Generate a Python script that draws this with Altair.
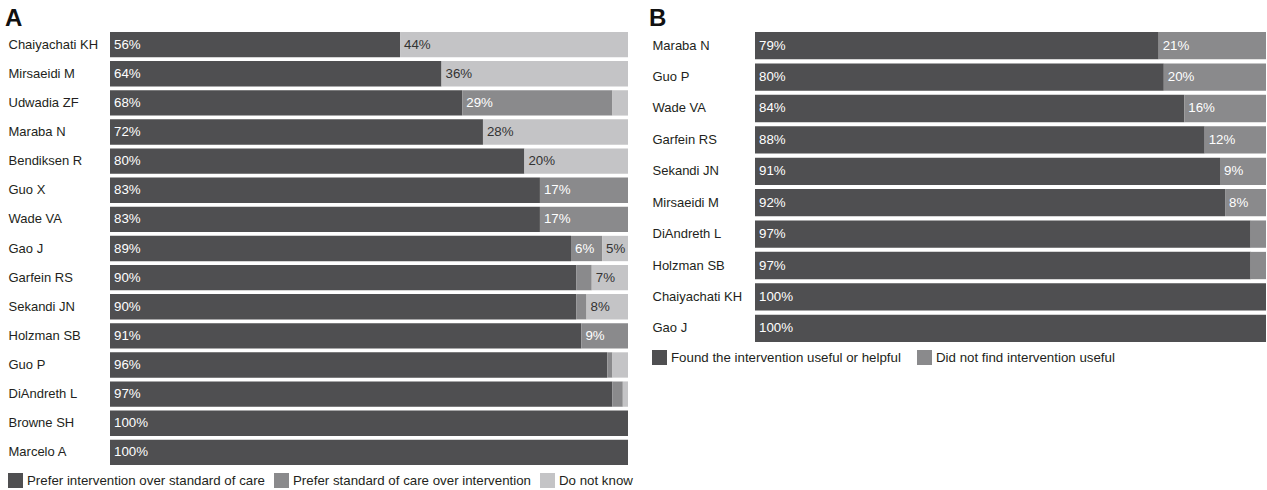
import altair as alt
import pandas as pd

FONT = "Liberation Sans"
TEXT_COLOR = "#231f20"
DARK, MID, LIGHT = "#4f4f51", "#8a8a8c", "#c4c4c6"

# Panel A: preference for the intervention over standard of care (%)
a_authors = ["Chaiyachati KH", "Mirsaeidi M", "Udwadia ZF", "Maraba N", "Bendiksen R",
             "Guo X", "Wade VA", "Gao J", "Garfein RS", "Sekandi JN", "Holzman SB",
             "Guo P", "DiAndreth L", "Browne SH", "Marcelo A"]
a_prefer_intervention = [56, 64, 68, 72, 80, 83, 83, 89, 90, 90, 91, 96, 97, 100, 100]
a_prefer_standard = [0, 0, 29, 0, 0, 17, 17, 6, 3, 2, 9, 1, 2, 0, 0]
a_do_not_know = [44, 36, 3, 28, 20, 0, 0, 5, 7, 8, 0, 3, 1, 0, 0]
a_categories = ["Prefer intervention over standard of care",
                "Prefer standard of care over intervention",
                "Do not know"]

# Panel B: perceived usefulness of the intervention (%)
b_authors = ["Maraba N", "Guo P", "Wade VA", "Garfein RS", "Sekandi JN",
             "Mirsaeidi M", "DiAndreth L", "Holzman SB", "Chaiyachati KH", "Gao J"]
b_useful = [79, 80, 84, 88, 91, 92, 97, 97, 100, 100]
b_not_useful = [21, 20, 16, 12, 9, 8, 3, 3, 0, 0]
b_categories = ["Found the intervention useful or helpful",
                "Did not find intervention useful"]


def long_table(authors, series, categories):
    rows = []
    for rank, (cat, values) in enumerate(zip(categories, series)):
        for author, v in zip(authors, values):
            if v > 0:
                rows.append({"author": author, "category": cat, "rank": rank, "pct": v})
    return pd.DataFrame(rows)


def panel(df, authors, categories, colors, width, height, letter, label_pad, col_pad):
    y = alt.Y("author:N", sort=authors, title=None,
              scale=alt.Scale(paddingInner=0.13, paddingOuter=0),
              axis=alt.Axis(labelAlign="left", labelPadding=label_pad, ticks=False,
                            domain=False, grid=False, labelFont=FONT, labelFontSize=13,
                            labelColor=TEXT_COLOR, labelLimit=200))
    x = alt.X("x0:Q", scale=alt.Scale(domain=[0, 100], nice=False), axis=None)
    base = alt.Chart(df).transform_stack(
        stack="pct", groupby=["author"], as_=["x0", "x1"],
        sort=[alt.SortField("rank", order="ascending")])
    bars = base.mark_bar().encode(
        x=x, x2="x1:Q", y=y,
        color=alt.Color(
            "category:N",
            scale=alt.Scale(domain=categories, range=colors),
            legend=alt.Legend(title=None, orient="none", legendX=-label_pad,
                              legendY=height + 8, direction="horizontal",
                              symbolType="square", symbolSize=225, symbolStrokeWidth=0,
                              symbolOpacity=1, labelFont=FONT, labelFontSize=13.3,
                              labelColor=TEXT_COLOR, columnPadding=col_pad,
                              labelOffset=4, labelLimit=400)))
    labels = base.transform_filter("datum.pct >= 5").transform_calculate(
        label="datum.pct + '%'").mark_text(
        align="left", baseline="middle", dx=4, font=FONT, fontSize=13.3).encode(
        x="x0:Q",
        y=alt.Y("author:N", sort=authors),
        text="label:N",
        color=alt.condition("datum.category == 'Do not know'",
                            alt.value("#333333"), alt.value("#ffffff")))
    return alt.layer(bars, labels).properties(
        width=width, height=height,
        title=alt.TitleParams(letter, anchor="start", frame="bounds", fontSize=24,
                              fontWeight="bold", font=FONT, color="#111111",
                              offset=1, dx=-3))


df_a = long_table(a_authors, [a_prefer_intervention, a_prefer_standard, a_do_not_know],
                  a_categories)
df_b = long_table(b_authors, [b_useful, b_not_useful], b_categories)

panel_a = panel(df_a, a_authors, a_categories, [DARK, MID, LIGHT], 518, 433, "A", 102, 9)
panel_b = panel(df_b, b_authors, b_categories, [DARK, MID], 511, 310, "B", 103, 16)

chart = alt.hconcat(panel_a, panel_b, spacing=127, bounds="flush").resolve_scale(
    color="independent").resolve_legend(color="independent").properties(
    padding={"left": 5, "top": 7, "right": 1, "bottom": 0},
    background="white",
).configure_view(strokeWidth=0)

chart.save("out.html", embed_options={"renderer": "svg", "actions": False})
